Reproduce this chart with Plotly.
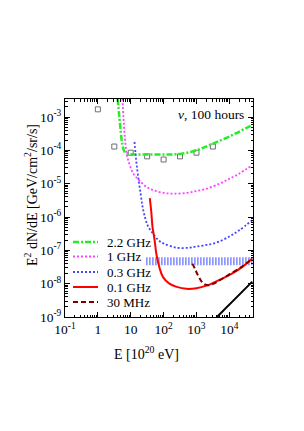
import plotly.graph_objects as go

# ---- data ----
E_22 = [4.0, 4.5, 5.0, 5.5, 6.5, 8, 10, 30, 100, 300, 1000, 3000, 10000, 50000]
F_22 = [3.5e-3, 1e-3, 3.5e-4, 1.6e-4, 9e-5, 8e-5, 7.7e-5, 7.5e-5, 7.5e-5, 7.8e-5, 1.0e-4, 1.55e-4, 2.6e-4, 5.8e-4]

E_1 = [5.6, 6.0, 6.5, 7.5, 9, 12, 19, 30, 50, 100, 200, 500, 1000, 2000, 5000, 10000, 20000, 50000]
F_1 = [3.5e-3, 1e-3, 3e-4, 8e-5, 4e-5, 2e-5, 1.2e-5, 8e-6, 6.3e-6, 5.3e-6, 5e-6, 5.3e-6, 6e-6, 7e-6, 1e-5, 1.4e-5, 2e-5, 3.6e-5]

E_03 = [13, 14, 15, 17, 20, 23, 27, 33, 46, 70, 100, 250, 600, 1000, 2000, 4000, 10000, 20000, 50000]
F_03 = [1.8e-4, 8e-5, 4e-5, 1.5e-5, 5e-6, 2e-6, 1e-6, 5.5e-7, 3.3e-7, 2e-7, 1.6e-7, 1.2e-7, 1.2e-7, 1.3e-7, 1.45e-7, 1.7e-7, 2.6e-7, 4e-7, 8e-7]

E_01 = [38, 42, 46, 50, 55, 60, 75, 95, 150, 250, 500, 1000, 2000, 5000, 12000, 25000, 50000]
F_01 = [3.7e-6, 1.5e-6, 5e-7, 3e-7, 1.6e-7, 8e-8, 3e-8, 1.6e-8, 1e-8, 8e-9, 7e-9, 7.3e-9, 8.7e-9, 1.3e-8, 2e-8, 3.2e-8, 5.7e-8]

E_30M = [750, 900, 1100, 1400, 1800, 2500, 4000, 10000, 25000, 50000]
F_30M = [4e-8, 2.8e-8, 1.8e-8, 1.2e-8, 9.5e-9, 9e-9, 1.1e-8, 1.9e-8, 3.3e-8, 5.8e-8]

E_band = [30, 50000]
F_band = [4.7e-8, 4.7e-8]

E_black = [4200, 50000]
F_black = [1e-9, 1.15e-8]

E_sq = [1, 3.16, 10, 31.6, 100, 316, 1000, 3162]
F_sq = [1.7e-3, 1.3e-4, 8.5e-5, 6.6e-5, 5.3e-5, 6.6e-5, 8.5e-5, 1.3e-4]

x_tickvals = [0.1, 1, 10, 100, 1000, 10000]
x_ticktext = ["10<sup>-1</sup>", "1", "10", "10<sup>2</sup>", "10<sup>3</sup>", "10<sup>4</sup>"]
y_tickvals = [1e-9, 1e-8, 1e-7, 1e-6, 1e-5, 1e-4, 1e-3]
y_ticktext = ["10<sup>-9</sup>", "10<sup>-8</sup>", "10<sup>-7</sup>", "10<sup>-6</sup>",
              "10<sup>-5</sup>", "10<sup>-4</sup>", "10<sup>-3</sup>"]

legend_names = ["2.2 GHz", "1 GHz", "0.3 GHz", "0.1 GHz", "30 MHz"]

FONT = "Liberation Serif"

styles = [
    dict(color="#22ee22", width=2.5, dash="6px,2px,2px,2px"),
    dict(color="#ff44ff", width=1.8, dash="2px,2px"),
    dict(color="#4444ff", width=1.8, dash="2px,2px"),
    dict(color="#ff0000", width=2),
    dict(color="#800000", width=2, dash="5px,3px"),
]
series = [(E_22, F_22), (E_1, F_1), (E_03, F_03), (E_01, F_01), (E_30M, F_30M)]

fig = go.Figure()

# band of vertical stripes
fig.add_trace(go.Scatter(x=E_band, y=F_band, mode="lines", showlegend=False,
                         line=dict(color="#3f4cff", width=8, dash="1px,2px")))
fig.add_trace(go.Scatter(x=E_sq, y=F_sq, mode="markers", showlegend=False,
                         marker=dict(symbol="square-open", size=5, color="#707070",
                                     line=dict(width=1, color="#707070"))))
fig.add_trace(go.Scatter(x=E_black, y=F_black, mode="lines", showlegend=False,
                         line=dict(color="black", width=2)))

for (ex, fy), name, st in zip(series, legend_names, styles):
    fig.add_trace(go.Scatter(x=ex, y=fy, mode="lines", name=name, showlegend=False,
                             line=dict(shape="spline", **st)))

# manual legend (samples + labels); positions in plot-area pixels
L, B, W, H = 65, 317, 188, 218
leg_y = [242, 256.5, 272, 287, 302]
for yy, name, st in zip(leg_y, legend_names, styles):
    py = (B - yy) / H
    fig.add_shape(type="line", xref="paper", yref="paper",
                  x0=(73 - L) / W, x1=(98 - L) / W, y0=py, y1=py,
                  line=st)
    fig.add_annotation(x=(105 - L) / W, y=py, xref="paper", yref="paper",
                       xanchor="left", yanchor="middle", text=name, showarrow=False,
                       font=dict(family=FONT, size=13, color="black"))

axis_common = dict(showline=True, linecolor="black", linewidth=1, mirror="ticks",
                   ticks="inside", ticklen=5, tickcolor="black", showgrid=False,
                   zeroline=False, automargin=False,
                   tickfont=dict(family=FONT, size=13.5, color="black"),
                   minor=dict(ticks="inside", ticklen=2.5, dtick="D1", tickcolor="black", showgrid=False))

fig.update_xaxes(type="log", range=[-1, 4.72], tickvals=x_tickvals, ticktext=x_ticktext,
                 **axis_common)
fig.update_yaxes(type="log", range=[-9, -2.46], tickvals=y_tickvals, ticktext=y_ticktext,
                 **axis_common)

# axis titles
fig.add_annotation(x=(146 - L) / W, y=(B - 353) / H, xref="paper", yref="paper",
                   xanchor="center", yanchor="middle", text="E [10<sup>20</sup> eV]",
                   showarrow=False, font=dict(family=FONT, size=14, color="black"))
fig.add_annotation(x=(31 - L) / W, y=(B - 195) / H, xref="paper", yref="paper",
                   xanchor="center", yanchor="middle", textangle=-90,
                   text="E<sup>2</sup> dN/dE [GeV/cm<sup>2</sup>/sr/s]",
                   showarrow=False, font=dict(family=FONT, size=14, color="black"))

fig.add_annotation(x=0.963, y=0.927, xref="paper", yref="paper", xanchor="right", yanchor="middle",
                   text="<i>ν</i>, 100 hours", showarrow=False,
                   font=dict(family=FONT, size=13.5, color="black"))

# page body has an 8px default margin, so margins are reduced by 8 on left/top
fig.update_layout(
    width=304, height=431,
    margin=dict(l=57, r=59, t=91, b=122),
    plot_bgcolor="white", paper_bgcolor="white",
    showlegend=False,
)

fig.write_html("out.html")
